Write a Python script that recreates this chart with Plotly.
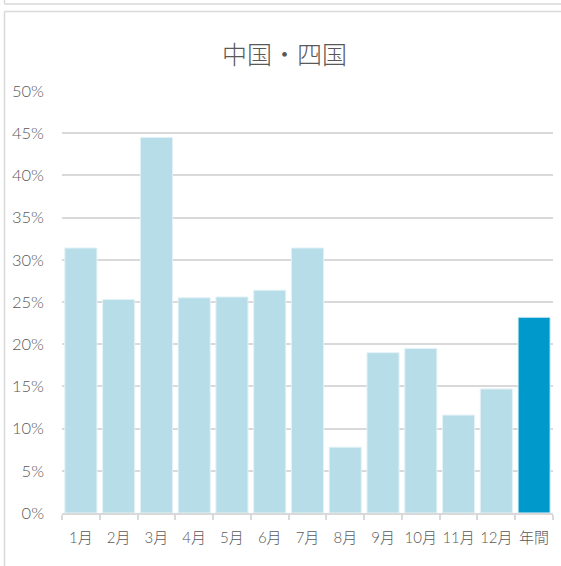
import plotly.graph_objects as go

categories = ["1月", "2月", "3月", "4月", "5月", "6月", "7月", "8月", "9月", "10月", "11月", "12月", "年間"]
values = [0.314, 0.253, 0.445, 0.255, 0.256, 0.264, 0.314, 0.078, 0.190, 0.195, 0.116, 0.147, 0.232]
bar_colors = ["#B7DDE8"] * 12 + ["#0099CC"]
title_text = "中国・四国"
y_ticks = [0, 0.05, 0.10, 0.15, 0.20, 0.25, 0.30, 0.35, 0.40, 0.45, 0.50]
y_tick_labels = ["0%", "5%", "10%", "15%", "20%", "25%", "30%", "35%", "40%", "45%", "50%"]

W, H = 561, 566
L, R, T, B = 62, 8, 91, 53
pw, ph = W - L - R, H - T - B

def px(x):
    return (x - L) / pw

def py(y):
    return (H - B - y) / ph

fig = go.Figure(go.Bar(
    x=categories, y=values,
    marker=dict(color=bar_colors, line=dict(color="#E4F2F7", width=1)),
    hoverinfo="x+y",
))

label_font = dict(family="Lato, 'Noto Sans CJK JP', sans-serif", size=16.5, color="#595959", weight=300)
xlabel_font = dict(family="Lato, 'Noto Sans CJK JP', sans-serif", size=15, color="#595959", weight=300)

fig.update_layout(
    width=W, height=H,
    margin=dict(l=L, r=R, t=T, b=B, pad=0),
    paper_bgcolor="white", plot_bgcolor="white",
    showlegend=False,
    bargap=0.15,
    font=label_font,
    xaxis=dict(
        showgrid=False, showline=True, linecolor="#D9D9D9", linewidth=1.5,
        ticks="outside", tickson="boundaries", ticklen=5, tickcolor="#D9D9D9", tickwidth=1.5,
        tickangle=0, tickfont=xlabel_font, ticklabelstandoff=10, fixedrange=True,
    ),
    yaxis=dict(
        range=[0, 0.5], tickvals=y_ticks, ticktext=y_tick_labels,
        showgrid=True, gridcolor="#D9D9D9", gridwidth=1.5,
        zeroline=False, showline=False, ticks="",
        tickfont=label_font, ticklabelstandoff=17, fixedrange=True,
    ),
    annotations=[dict(
        text=title_text, xref="paper", yref="paper",
        x=px(284.5), y=py(53), xanchor="center", yanchor="middle",
        showarrow=False,
        font=dict(family="'Noto Sans CJK JP', sans-serif", size=25, color="#595959", weight=300),
    )],
    shapes=[
        dict(type="line", xref="paper", yref="paper", x0=px(4.5), x1=px(600), y0=py(4), y1=py(4),
             line=dict(color="#D9D9D9", width=1.5)),
        dict(type="line", xref="paper", yref="paper", x0=px(4.5), x1=px(4.5), y0=py(-10), y1=py(4),
             line=dict(color="#D9D9D9", width=1.5)),
        dict(type="line", xref="paper", yref="paper", x0=px(4.5), x1=px(600), y0=py(11.5), y1=py(11.5),
             line=dict(color="#D9D9D9", width=1.5)),
        dict(type="line", xref="paper", yref="paper", x0=px(4.5), x1=px(4.5), y0=py(11.5), y1=py(600),
             line=dict(color="#D9D9D9", width=1.5)),
    ],
)

fig.write_html(
    "out.html",
    config={"displayModeBar": False},
    post_script="document.body.style.margin='0';document.body.style.overflow='hidden';",
)
